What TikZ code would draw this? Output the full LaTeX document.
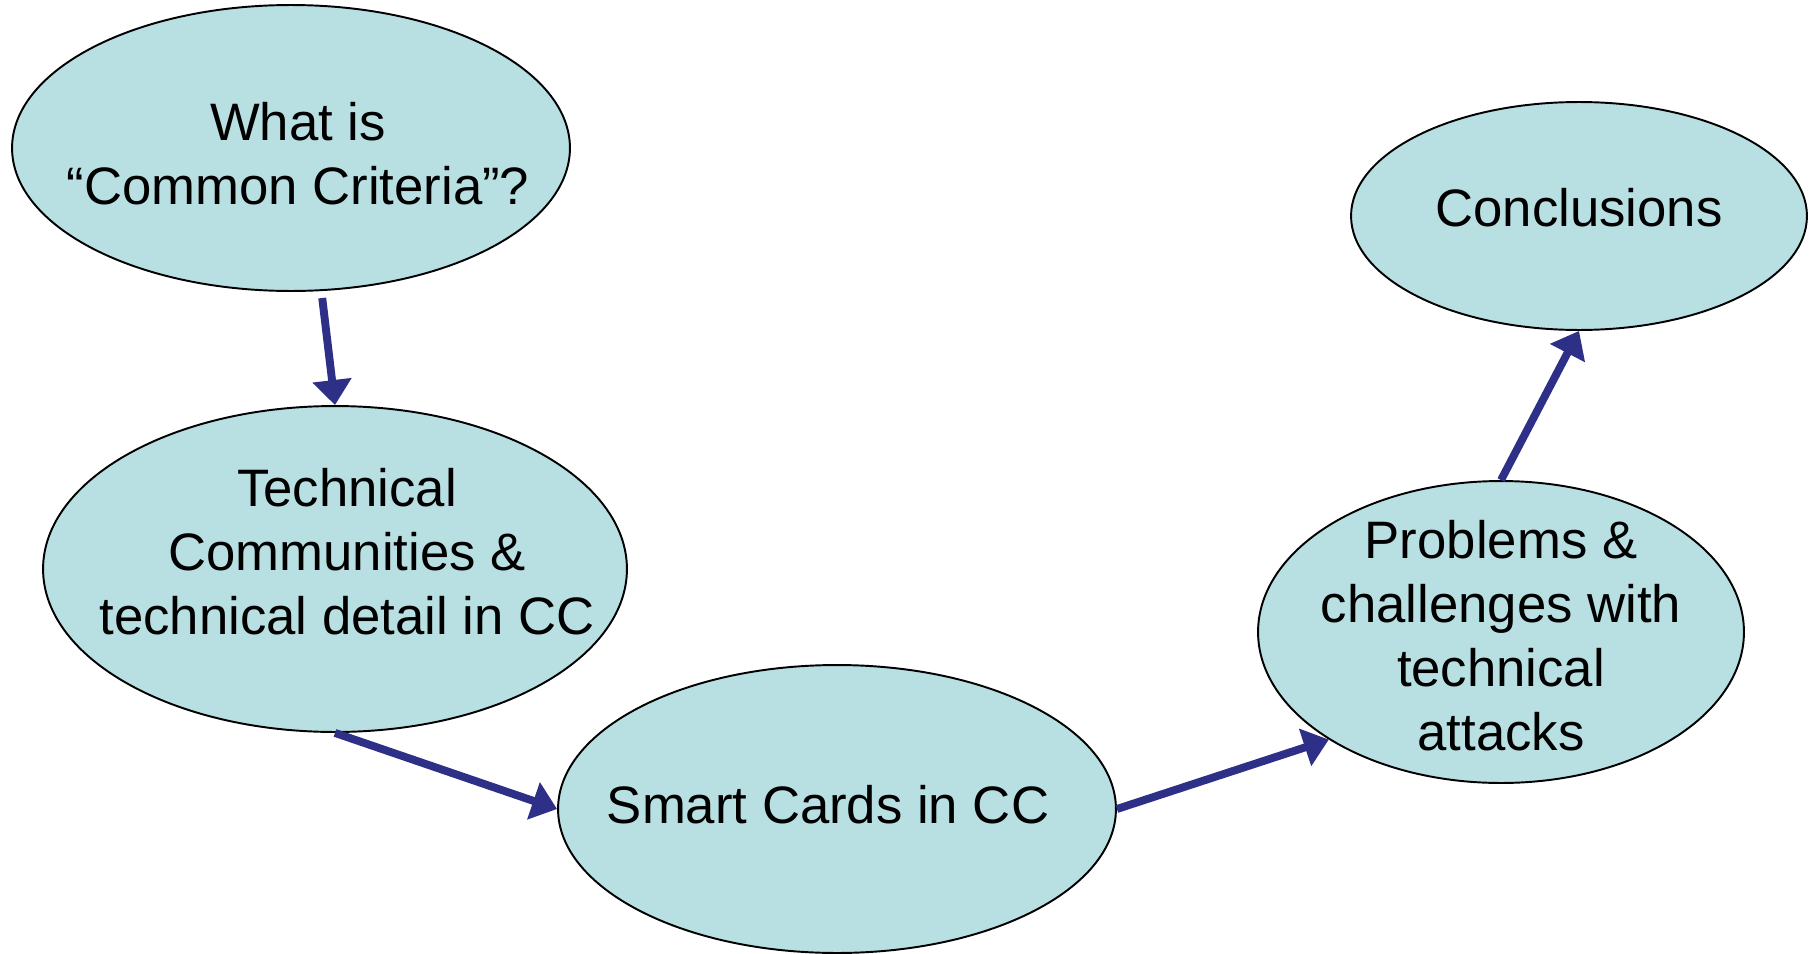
\documentclass[tikz,border=0pt]{standalone}
\usepackage{fontspec}
\setmainfont{Liberation Sans}
\usetikzlibrary{shapes,arrows.meta,positioning}

\definecolor{bubblefill}{HTML}{B8E0E3}
\definecolor{arrowblue}{HTML}{2E3088}
% text of a bubble, moved right by #1 and down by #2, taking no room
\newcommand{\bubbletext}[3]{\smash{\raisebox{-#2}{\makebox[0pt]{\hspace*{#1}\hspace*{#1}\begin{tabular}{@{}c@{}}#3\end{tabular}}}}}

\begin{document}
\begin{tikzpicture}[x=0.02cm, y=-0.02cm]
			\tikzstyle{Bubble}	= [ellipse, draw=black, line width=1.1pt, fill=bubblefill, inner sep=0pt, font=\fontsize{30}{36.4}\selectfont]
			\tikzstyle{Step}	= [line width=4.5pt, arrowblue, -{Triangle[length=0.5cm, width=0.76cm]}]
			
			\useasboundingbox (0,0) rectangle (1818,953);
			
			\node (what) at (291,148) [Bubble, minimum width=11.16cm, minimum height=5.72cm] {\bubbletext{0.14cm}{0.46cm}{What is\\“Common Criteria”?}};
			\node (tech) at (335,569) [Bubble, minimum width=11.68cm, minimum height=6.52cm] {\bubbletext{0.24cm}{0cm}{Technical\\Communities \&\\technical detail in CC}};
			\node (cards) at (837,809) [Bubble, minimum width=11.16cm, minimum height=5.76cm] {\bubbletext{-0.18cm}{0.26cm}{Smart Cards in CC}};
			\node (probs) at (1501,632) [Bubble, minimum width=9.72cm, minimum height=6.04cm] {\bubbletext{0cm}{0.42cm}{Problems \&\\challenges with\\technical\\attacks}};
			\node (concl) at (1579,216) [Bubble, minimum width=9.12cm, minimum height=4.56cm] {\bubbletext{0cm}{0.18cm}{Conclusions}};
			
			\draw (what.-78) to (tech.north) [Step, shorten <=0.14cm];
			\draw (tech.south) to (cards.west) [Step];
			\draw (cards.east) to (probs.212) [Step];
			\draw (probs.north) to (concl.south) [Step];
		\end{tikzpicture}
\end{document}
